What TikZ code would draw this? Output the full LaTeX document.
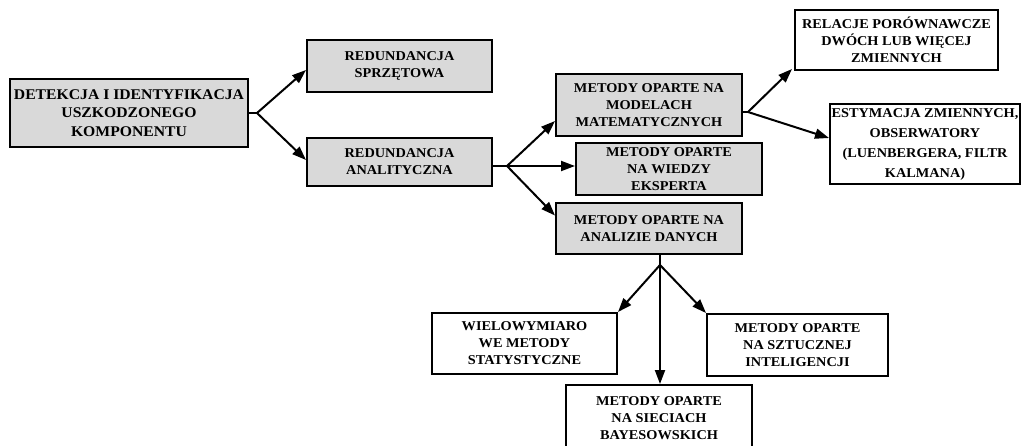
\documentclass[tikz,border=0pt]{standalone}
\usepackage{fontspec}
\setmainfont{Liberation Serif}[FakeStretch=1.06]
\usetikzlibrary{arrows.meta}
\definecolor{boxgray}{HTML}{D9D9D9}

\tikzset{
  box/.style={draw=black, line width=2pt, align=center, inner sep=0pt,
    font=\fontsize{13.5}{17}\selectfont\bfseries},
  greybox/.style={box, fill=boxgray},
  whitebox/.style={box, fill=white},
  link/.style={line width=2pt},
  arr/.style={link, -{Triangle[length=14pt,width=10pt]}},
}

\begin{document}
\begin{tikzpicture}[x=1pt, y=-1pt]
\useasboundingbox (0,0) rectangle (1023,445);
\clip (0,0) rectangle (1023,445);

% first level
\node[greybox, minimum width=238pt, minimum height=68pt,
  font=\fontsize{14.8}{18.3}\selectfont\bfseries] (det) at (129,113)
  {DETEKCJA I IDENTYFIKACJA\\USZKODZONEGO\\KOMPONENTU};
\node[greybox, minimum width=185pt, minimum height=52pt] (rs) at (399.5,66)
  {REDUNDANCJA\\SPRZĘTOWA};
\node[greybox, minimum width=185pt, minimum height=48pt] (ra) at (399.5,162)
  {REDUNDANCJA\\ANALITYCZNA};

% methods of analytical redundancy
\node[greybox, minimum width=186pt, minimum height=62pt] (mm) at (649,105)
  {METODY OPARTE NA\\MODELACH\\MATEMATYCZNYCH};
\node[greybox, minimum width=186pt, minimum height=52pt] (we) at (669,169)
  {METODY OPARTE\\NA WIEDZY\\EKSPERTA};
\node[greybox, minimum width=186pt, minimum height=51pt] (ad) at (649,228.5)
  {METODY OPARTE NA\\ANALIZIE DANYCH};

% model based
\node[whitebox, minimum width=203pt, minimum height=60pt] (rel) at (896.5,40)
  {RELACJE PORÓWNAWCZE\\DWÓCH LUB WIĘCEJ\\ZMIENNYCH};
\node[whitebox, minimum width=190pt, minimum height=80pt,
  font=\fontsize{13.5}{20}\selectfont\bfseries] (est) at (925,144)
  {ESTYMACJA ZMIENNYCH,\\OBSERWATORY\\(LUENBERGERA, FILTR\\KALMANA)};

% data based
\node[whitebox, minimum width=185pt, minimum height=61pt] (wie) at (524.5,343.5)
  {WIELOWYMIARO\\WE METODY\\STATYSTYCZNE};
\node[whitebox, minimum width=181pt, minimum height=62pt] (szt) at (797.5,345)
  {METODY OPARTE\\NA SZTUCZNEJ\\INTELIGENCJI};
\node[whitebox, minimum width=186pt, minimum height=90pt] (bay) at (659,430) {};
\node[font=\fontsize{13.5}{17}\selectfont\bfseries, align=center, anchor=north] (baytxt) at (659,393)
  {METODY OPARTE\\NA SIECIACH\\BAYESOWSKICH};

% branching points
\coordinate (j1) at (257,113);
\coordinate (j2) at (507,166);
\coordinate (j3) at (748,112);
\coordinate (j4) at (660,265);

% connectors
\draw[link] (det.east) -- (j1);
\draw[arr] (j1) -- ([yshift=-4pt]rs.west);
\draw[arr] (j1) -- ([yshift=2pt]ra.west);

\draw[link] (j2 -| ra.east) -- (j2);
\draw[arr] (j2) -- ([yshift=-16pt]mm.west);
\draw[arr] (j2) -- (j2 -| we.west);
\draw[arr] (j2) -- ([yshift=13pt]ad.west);

\draw[link] (j3 -| mm.east) -- (j3);
\draw[arr] (j3) -- ([xshift=-2pt,yshift=2pt]rel.south west);
\draw[arr] (j3) -- ([yshift=6pt]est.west);

\draw[link] (j4 |- ad.south) -- (j4);
\draw[arr] (j4) -- (wie.north east);
\draw[arr] (j4) -- (j4 |- bay.north);
\draw[arr] (j4) -- (szt.north west);
\end{tikzpicture}
\end{document}
